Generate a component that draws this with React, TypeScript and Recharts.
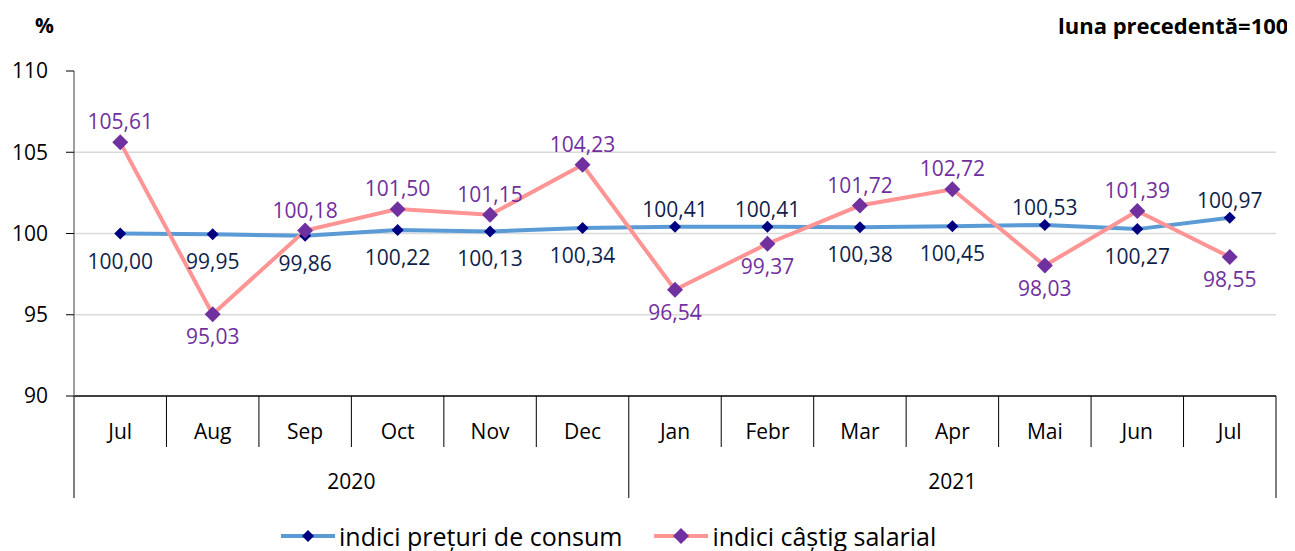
import React from "react";
import {
  LineChart,
  Line,
  XAxis,
  YAxis,
  CartesianGrid,
  Legend,
} from "recharts";

const months = ["Jul", "Aug", "Sep", "Oct", "Nov", "Dec", "Jan", "Febr", "Mar", "Apr", "Mai", "Jun", "Jul"];
const years = ["2020", "2020", "2020", "2020", "2020", "2020", "2021", "2021", "2021", "2021", "2021", "2021", "2021"];
const cpi = [100.0, 99.95, 99.86, 100.22, 100.13, 100.34, 100.41, 100.41, 100.38, 100.45, 100.53, 100.27, 100.97];
const wages = [105.61, 95.03, 100.18, 101.5, 101.15, 104.23, 96.54, 99.37, 101.72, 102.72, 98.03, 101.39, 98.55];
const yTicks = [90, 95, 100, 105, 110];

// where each data label sits relative to its point
const cpiLabelSide = ["b", "b", "b", "b", "b", "b", "t", "t", "b", "b", "t", "b", "t"];
const wageLabelSide = ["t", "b", "t", "t", "t", "t", "b", "b", "t", "t", "b", "t", "b"];

const data = months.map((m, i) => ({
  idx: i,
  month: m,
  year: years[i],
  cpi: cpi[i],
  wages: wages[i],
}));

const FONT = "'Open Sans', sans-serif";
const W = 1287;
const H = 543;
const margin = { top: 63, right: 19, left: 6, bottom: 0 };
const Y_W = 60;
const plotW = W - margin.left - margin.right - Y_W;
const bw = plotW / months.length;
const ROW = 51;

const fmt = (v: number) => v.toFixed(2).replace(".", ",");

const Diamond = ({ cx, cy, r, fill }: any) => {
  if (cx == null || cy == null) return null;
  return (
    <polygon
      points={`${cx},${cy - r} ${cx + r},${cy} ${cx},${cy + r} ${cx - r},${cy}`}
      fill={fill}
    />
  );
};

const makeLabel = (sides: string[], color: string, up: number, down: number) =>
  (props: any) => {
    const { x, y, value, index } = props;
    const top = sides[index] === "t";
    return (
      <text
        key={index}
        x={x}
        y={top ? y - up : y + down}
        textAnchor="middle"
        dominantBaseline="central"
        fill={color}
        fontFamily={FONT}
        fontSize={21}
      >
        {fmt(value)}
      </text>
    );
  };

const MonthTick = (props: any) => {
  const { x, y, payload } = props;
  const i = payload.value;
  const last = i === months.length - 1;
  return (
    <g>
      <line x1={x - bw / 2} x2={x - bw / 2} y1={y} y2={y + ROW} stroke="#000" />
      {last && <line x1={x + bw / 2} x2={x + bw / 2} y1={y} y2={y + ROW} stroke="#000" />}
      <text x={x} y={y + 35} textAnchor="middle" dominantBaseline="central" fontFamily={FONT} fontSize={21} fill="#000">
        {months[i]}
      </text>
    </g>
  );
};

const YearTick = (props: any) => {
  const { x, y, payload } = props;
  const i = payload.value;
  const yr = years[i];
  const first = i === 0 || years[i - 1] !== yr;
  const last = i === years.length - 1;
  if (!first && !last) return null;
  const count = years.filter((v) => v === yr).length;
  return (
    <g>
      {first && (
        <>
          <line x1={x - bw / 2} x2={x - bw / 2} y1={y} y2={y + ROW} stroke="#000" />
          <text
            x={x - bw / 2 + (count * bw) / 2}
            y={y + 34}
            textAnchor="middle"
            dominantBaseline="central"
            fontFamily={FONT}
            fontSize={21}
            fill="#000"
          >
            {yr}
          </text>
        </>
      )}
      {last && <line x1={x + bw / 2} x2={x + bw / 2} y1={y} y2={y + ROW} stroke="#000" />}
    </g>
  );
};

const legendItems = [
  { label: "indici prețuri de consum", line: "#5b9bd5", dot: "#000080", r: 6 },
  { label: "indici câștig salarial", line: "#ff9494", dot: "#7030a0", r: 8 },
];

const LegendContent = () => (
  <div style={{ display: "flex", gap: 30, paddingTop: 25, paddingLeft: 265 }}>
    {legendItems.map((it) => (
      <div key={it.label} style={{ display: "flex", alignItems: "center" }}>
        <svg width={58} height={20}>
          <line x1={2} x2={56} y1={10} y2={10} stroke={it.line} strokeWidth={4} />
          <Diamond cx={29} cy={10} r={it.r} fill={it.dot} />
        </svg>
        <span style={{ fontFamily: FONT, fontSize: 25, color: "#000", marginLeft: 2, lineHeight: "26px" }}>
          {it.label}
        </span>
      </div>
    ))}
  </div>
);

const axisCommon = {
  dataKey: "idx",
  type: "number" as const,
  domain: [-0.5, months.length - 0.5],
  ticks: months.map((_, i) => i),
  interval: 0 as const,
  height: ROW,
  tickSize: 0,
  tickMargin: 0,
  tickLine: false,
};

export default function App() {
  return (
    <div style={{ position: "relative", width: W, height: H, fontFamily: FONT }}>
      <div style={{ position: "absolute", left: 27, top: 3, fontSize: 21, fontWeight: 700 }}>%</div>
      <div style={{ position: "absolute", left: 1050, top: 2, fontSize: 22, fontWeight: 700, whiteSpace: "nowrap" }}>
        luna precedentă=100
      </div>
      <LineChart width={W} height={H} data={data} margin={margin}>
        <CartesianGrid vertical={false} horizontalValues={[95, 100, 105]} stroke="#d9d9d9" strokeWidth={1.5} />
        <XAxis
          {...axisCommon}
          axisLine={{ stroke: "#000", strokeWidth: 1.5 }}
          tick={<MonthTick />}
        />
        <XAxis
          {...axisCommon}
          xAxisId="year"
          axisLine={false}
          tick={<YearTick />}
        />
        <YAxis
          domain={[90, 110]}
          ticks={yTicks}
          width={Y_W}
          tickSize={8}
          tickMargin={18}
          axisLine={{ stroke: "#7f7f7f", strokeWidth: 1.5 }}
          tickLine={{ stroke: "#000" }}
          tick={{ fontFamily: FONT, fontSize: 21, fill: "#000" }}
        />
        <Legend verticalAlign="bottom" height={53} content={<LegendContent />} />
        <Line
          dataKey="cpi"
          name="indici prețuri de consum"
          stroke="#5b9bd5"
          strokeWidth={4}
          dot={(p: any) => <Diamond key={p.index} cx={p.cx} cy={p.cy} r={6} fill="#000080" />}
          activeDot={false}
          isAnimationActive={false}
          label={makeLabel(cpiLabelSide, "#0f1f4b", 18, 27)}
        />
        <Line
          dataKey="wages"
          name="indici câștig salarial"
          stroke="#ff9494"
          strokeWidth={4}
          dot={(p: any) => <Diamond key={p.index} cx={p.cx} cy={p.cy} r={8} fill="#7030a0" />}
          activeDot={false}
          isAnimationActive={false}
          label={makeLabel(wageLabelSide, "#7030a0", 21, 22)}
        />
      </LineChart>
    </div>
  );
}
